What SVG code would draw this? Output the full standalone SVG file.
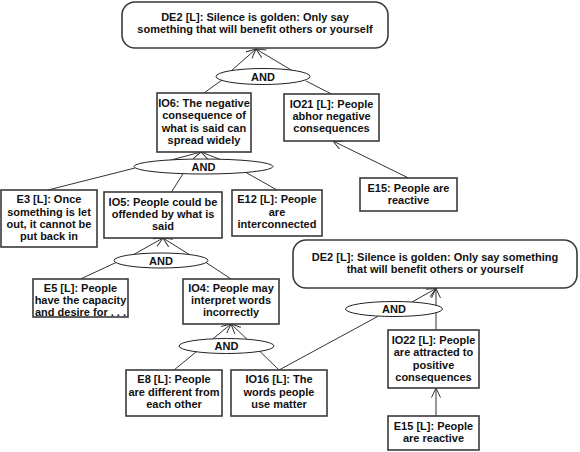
<svg xmlns="http://www.w3.org/2000/svg" width="580" height="452" viewBox="0 0 580 452">
<style>
text{font-family:"Liberation Sans",Arial,sans-serif;font-size:11px;font-weight:bold;fill:#111;text-anchor:middle}
.box{fill:#fff;stroke:#3a3a3a;stroke-width:1.6}
.and{fill:#fff;stroke:#222;stroke-width:1}
.c{stroke:#333;stroke-width:1;fill:none}
.a{stroke:#333;stroke-width:1;fill:none;marker-end:url(#ah)}
</style>
<defs>
<marker id="ah" viewBox="0 0 10 10" refX="9.5" refY="5" markerWidth="10" markerHeight="10" markerUnits="userSpaceOnUse" orient="auto">
<path d="M0,0.5 L9.5,5 L0,9.5" fill="none" stroke="#333" stroke-width="1"/>
</marker>
</defs>
<rect width="580" height="452" fill="#fff"/>
<g id="connectors">
<line class="c" x1="204" y1="93" x2="222" y2="80"/>
<line class="c" x1="331.5" y1="94" x2="306" y2="81"/>
<line class="a" x1="231" y1="71" x2="256" y2="49"/>
<line class="a" x1="292" y1="70.5" x2="256" y2="49"/>
<line class="a" x1="408.5" y1="178" x2="333" y2="141"/>
<line class="c" x1="48" y1="190" x2="135" y2="168"/>
<line class="c" x1="171.5" y1="192" x2="183" y2="173.7"/>
<line class="c" x1="277" y1="190" x2="246" y2="172.5"/>
<line class="a" x1="171" y1="160" x2="201" y2="152"/>
<line class="a" x1="220" y1="159.3" x2="201" y2="152"/>
<line class="c" x1="80.5" y1="279" x2="116" y2="262.5"/>
<line class="c" x1="231" y1="279" x2="206" y2="262.5"/>
<line class="a" x1="133" y1="254.9" x2="163" y2="238"/>
<line class="a" x1="190" y1="255" x2="163" y2="238"/>
<line class="c" x1="174" y1="370" x2="196" y2="352"/>
<line class="c" x1="279" y1="370" x2="260" y2="351.5"/>
<line class="a" x1="213" y1="338.8" x2="231" y2="324"/>
<line class="a" x1="247" y1="339.2" x2="231" y2="324"/>
<line class="c" x1="279" y1="370" x2="378" y2="316.3"/>
<line class="a" x1="412" y1="302" x2="436" y2="288.5"/>
<line class="a" x1="436" y1="330" x2="436" y2="288.5"/>
<line class="a" x1="436" y1="416" x2="436" y2="388"/>
</g>
<g id="and1"><ellipse class="and" cx="263" cy="76.5" rx="47" ry="8"/><text x="263" y="80.5">AND</text></g>
<g id="and2"><ellipse class="and" cx="203.5" cy="166.5" rx="69.5" ry="7.5"/><text x="203.5" y="170.5">AND</text></g>
<g id="and3"><ellipse class="and" cx="161" cy="260.5" rx="47" ry="7.5"/><text x="161" y="264.5">AND</text></g>
<g id="and4"><ellipse class="and" cx="226.5" cy="346" rx="47.5" ry="7.5"/><text x="226.5" y="350">AND</text></g>
<g id="and5"><ellipse class="and" cx="394" cy="309" rx="48.5" ry="7.5"/><text x="394" y="313">AND</text></g>
<g id="DE2_top"><rect class="box" x="122" y="2" width="266" height="46" rx="13"/>
<text x="255" y="21">DE2 [L]: Silence is golden: Only say</text>
<text x="255" y="33.3">something that will benefit others or yourself</text></g>
<g id="IO6"><rect class="box" x="157" y="93" width="94" height="59"/>
<text x="204" y="107">IO6: The negative</text><text x="204" y="119.3">consequence of</text><text x="204" y="131.6">what is said can</text><text x="204" y="143.9">spread widely</text></g>
<g id="IO21"><rect class="box" x="284" y="94" width="95" height="47"/>
<text x="331.5" y="107.5">IO21 [L]: People</text><text x="331.5" y="119.8">abhor negative</text><text x="331.5" y="132.1">consequences</text></g>
<g id="E15_top"><rect class="box" x="360" y="178" width="97" height="33"/>
<text x="408.5" y="191.7">E15: People are</text><text x="408.5" y="204">reactive</text></g>
<g id="E3"><rect class="box" x="1" y="190" width="96" height="57"/>
<text x="49" y="203.3">E3 [L]: Once</text><text x="49" y="215.6">something is let</text><text x="49" y="227.9">out, it cannot be</text><text x="49" y="240.2">put back in</text></g>
<g id="IO5"><rect class="box" x="104" y="192" width="118" height="46"/>
<text x="163" y="205.7">IO5: People could be</text><text x="163" y="218">offended by what is</text><text x="163" y="230.3">said</text></g>
<g id="E12"><rect class="box" x="232" y="190" width="90" height="46"/>
<text x="277" y="203.3">E12 [L]: People</text><text x="277" y="215.6">are</text><text x="277" y="227.9">interconnected</text></g>
<g id="DE2_right"><rect class="box" x="293" y="240" width="284" height="48" rx="13"/>
<text x="435" y="261">DE2 [L]: Silence is golden: Only say something</text>
<text x="435" y="273.3">that will benefit others or yourself</text></g>
<g id="E5"><rect class="box" x="33" y="279" width="95" height="38"/>
<text x="80.5" y="291.8">E5 [L]: People</text><text x="80.5" y="304">have the capacity</text><text x="80.5" y="315.8">and desire for . . .</text></g>
<g id="IO4"><rect class="box" x="183" y="279" width="96" height="45"/>
<text x="231" y="291.8">IO4: People may</text><text x="231" y="304">interpret words</text><text x="231" y="316">incorrectly</text></g>
<g id="E8"><rect class="box" x="126" y="370" width="96" height="46"/>
<text x="174" y="383.3">E8 [L]: People</text><text x="174" y="395.6">are different from</text><text x="174" y="407.9">each other</text></g>
<g id="IO16"><rect class="box" x="231" y="370" width="96" height="46"/>
<text x="279" y="383.3">IO16 [L]: The</text><text x="279" y="395.6">words people</text><text x="279" y="407.9">use matter</text></g>
<g id="IO22"><rect class="box" x="388" y="330" width="91" height="58"/>
<text x="433.5" y="344">IO22 [L]: People</text><text x="433.5" y="356.3">are attracted to</text><text x="433.5" y="368.6">positive</text><text x="433.5" y="380.9">consequences</text></g>
<g id="E15_bottom"><rect class="box" x="388" y="416" width="91" height="34"/>
<text x="433.5" y="430">E15 [L]: People</text><text x="433.5" y="442.3">are reactive</text></g>
</svg>
